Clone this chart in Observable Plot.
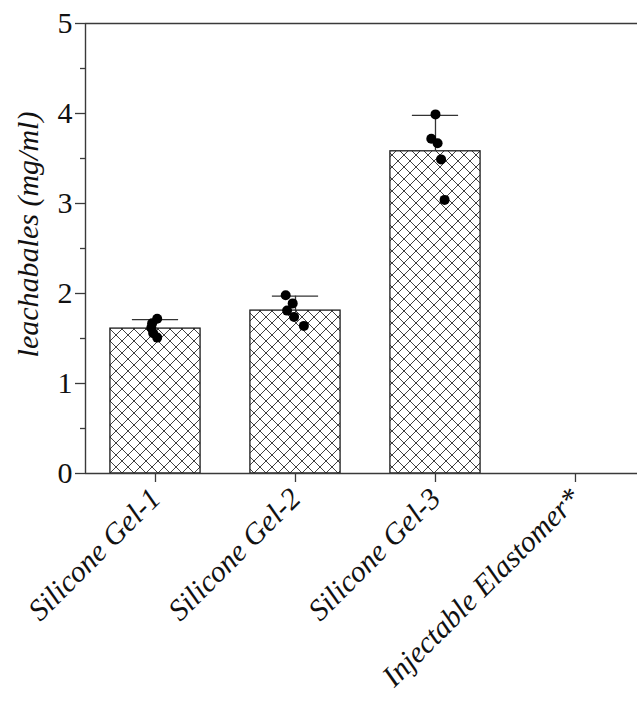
<!DOCTYPE html>
<html><head><meta charset="utf-8">
<script src="https://cdn.jsdelivr.net/npm/d3@7"></script>
<script src="https://cdn.jsdelivr.net/npm/@observablehq/plot@0.6"></script>
<style>html,body{margin:0;padding:0;background:#fff} svg{display:block}</style>
</head><body><div id="chart"></div>
<script>
const categories = ["Silicone Gel-1", "Silicone Gel-2", "Silicone Gel-3", "Injectable Elastomer*"];
const means = [1.61, 1.81, 3.58, null];
const sds = [0.10, 0.16, 0.40, null];
const gel1 = [1.72, 1.67, 1.62, 1.56, 1.51];
const gel2 = [1.98, 1.89, 1.81, 1.74, 1.64];
const gel3 = [3.99, 3.72, 3.67, 3.49, 3.04];
const jitter1 = [0.012, -0.024, -0.03, -0.017, 0.012];
const jitter2 = [-0.07, -0.02, -0.06, -0.01, 0.06];
const jitter3 = [0.0, -0.03, 0.015, 0.04, 0.065];
const yTicks = [0, 1, 2, 3, 4, 5];
const yMinor = [0.5, 1.5, 2.5, 3.5, 4.5];
const yLabel = "leachabales (mg/ml)";

const bars = categories.map((c, i) => ({i, c, mean: means[i], sd: sds[i]})).filter(d => d.mean != null);
const pts = [];
[[gel1, jitter1], [gel2, jitter2], [gel3, jitter3]].forEach(([vals, jit], i) =>
  vals.forEach((v, j) => pts.push({i, v, j: jit[j]})));

const font = "'Liberation Serif', 'Times New Roman', serif";
const axisColor = "#3a3a3a";

const svg = Plot.plot({
  width: 637, height: 702,
  marginLeft: 85, marginRight: 0, marginTop: 23, marginBottom: 229,
  style: {fontFamily: font, fontSize: "30px", color: "#111", background: "#fff", overflow: "visible"},
  x: {type: "linear", domain: [-0.5, 3.443], label: null},
  y: {domain: [0, 5], label: null},
  marks: [
    Plot.rect(bars, {x1: d => d.i - 0.322, x2: d => d.i + 0.322, y1: 0, y2: "mean",
      fill: "url(#xhatch)", stroke: "#1a1a1a", strokeWidth: 1.3}),
    Plot.ruleX(bars, {x: "i", y1: "mean", y2: d => d.mean + d.sd, stroke: "#333", strokeWidth: 1.3}),
    Plot.ruleY(bars, {y: d => d.mean + d.sd, x1: d => d.i - 0.165, x2: d => d.i + 0.165, stroke: "#333", strokeWidth: 1.3}),
    Plot.dot(pts, {x: d => d.i + d.j, y: "v", r: 5, fill: "#000"}),
    Plot.ruleY([0, 5], {stroke: axisColor, strokeWidth: 1.4}),
    Plot.ruleX([-0.5], {stroke: axisColor, strokeWidth: 1.4}),
    Plot.axisY({ticks: yTicks, tickSize: 10, tickPadding: 3, tickFormat: d => d, label: null,
      fontSize: 30, stroke: axisColor, strokeWidth: 1.3, fill: "#111"}),
    Plot.axisY({ticks: yMinor, tickSize: 5, tickFormat: () => "", label: null, stroke: axisColor, strokeWidth: 1.3}),
    Plot.axisX({ticks: [0, 1, 2, 3], tickFormat: i => categories[i], tickRotate: -45, tickSize: 9, tickPadding: 11,
      label: null, fontSize: 30, fontStyle: "italic", stroke: axisColor, strokeWidth: 1.3, fill: "#111"}),
    Plot.text([yLabel], {frameAnchor: "left", textAnchor: "middle", rotate: -90, dx: -57, dy: -14, fontStyle: "italic",
      fontSize: 30, fill: "#111"})
  ]
});

const ns = "http://www.w3.org/2000/svg";
const defs = document.createElementNS(ns, "defs");
defs.innerHTML = `<pattern id="xhatch" patternUnits="userSpaceOnUse" width="12" height="12" patternTransform="translate(2,5)">
<rect width="12" height="12" fill="#fff"/>
<path d="M0,0L12,12M12,0L0,12M-1,11L1,13M11,-1L13,1" stroke="#2a2a2a" stroke-width="0.9"/>
</pattern>`;
svg.insertBefore(defs, svg.firstChild);
document.getElementById("chart").appendChild(svg);
</script>
</body></html>
